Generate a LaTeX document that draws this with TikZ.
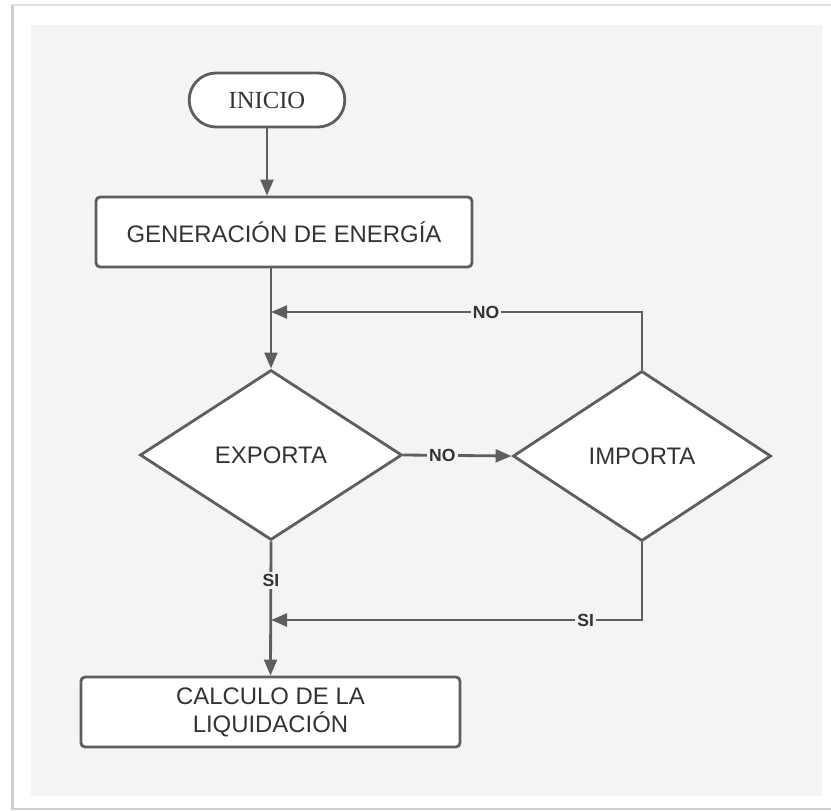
\documentclass[tikz,border=0pt]{standalone}
\usepackage{fontspec}
\setmainfont{Liberation Serif}
\setsansfont{Liberation Sans}
\usetikzlibrary{arrows.meta,positioning,shapes.geometric,shapes.misc}
\definecolor{panel}{HTML}{F3F4F6}
\definecolor{edge}{HTML}{5E5E5E}
\definecolor{ink}{HTML}{333333}
\definecolor{frame}{HTML}{CFCFCF}

\tikzset{
  startbox/.style={draw=edge,fill=white,line width=2pt,rounded rectangle,minimum width=4.125cm,minimum height=1.35cm,font=\fontsize{17.5}{20}\selectfont,text=ink},
  procbox/.style={draw=edge,fill=white,line width=2pt,rounded corners=3pt,minimum height=1.75cm,align=center,font=\sffamily\fontsize{17}{20}\selectfont,text=ink},
  decision/.style={draw=edge,fill=white,line width=2pt,diamond,inner sep=0pt,font=\sffamily\fontsize{17}{20}\selectfont,text=ink},
  flow/.style={draw=edge,line width=2pt,-{Triangle[length=0.4cm,width=0.32cm]}},
  lbl/.style={fill=panel,inner sep=1.5pt,font=\sffamily\bfseries\fontsize{12.5}{14}\selectfont,text=ink}
}

\begin{document}
\begin{tikzpicture}[x=0.025cm,y=-0.025cm]
\useasboundingbox (0,0) rectangle (831,811);
\fill[white] (0,0) rectangle (831,811);
\draw[frame!60,line width=1pt] (12,5)--(831,5);
\draw[frame,line width=1.5pt] (12.5,5)--(12.5,809)--(831,809);
\fill[panel] (31,25) rectangle (822,796);

% nodes
\node[startbox] (inicio) at (267,100) {INICIO};
\node[procbox,minimum width=9.4cm] (gen) at (284,232) {GENERACIÓN DE ENERGÍA};
\node[decision,minimum width=6.55cm,minimum height=4.25cm] (exporta) at (271,455) {EXPORTA};
\node[decision,minimum width=6.45cm,minimum height=4.25cm] (importa) at (642,456) {IMPORTA};
\node[procbox,minimum width=9.475cm] (calc) at (270.5,712) {CALCULO DE LA\\LIQUIDACIÓN};
\coordinate (jno) at (271,312);
\coordinate (jsi) at (271,620);

% connectors
\draw[flow] (inicio.south) -- (inicio.south |- gen.north);
\draw[flow] (gen.south -| exporta.north) -- (exporta.north);
\draw[flow] (exporta.east) -- node[lbl,pos=0.36]{NO} (importa.west);
\draw[flow] (importa.north) |- node[lbl,pos=0.71]{NO} (jno);
\draw[flow] (exporta.south) -- node[lbl,pos=0.29]{SI} (calc.north);
\draw[flow] (importa.south) |- node[lbl,pos=0.576]{SI} (jsi);
\end{tikzpicture}
\end{document}
